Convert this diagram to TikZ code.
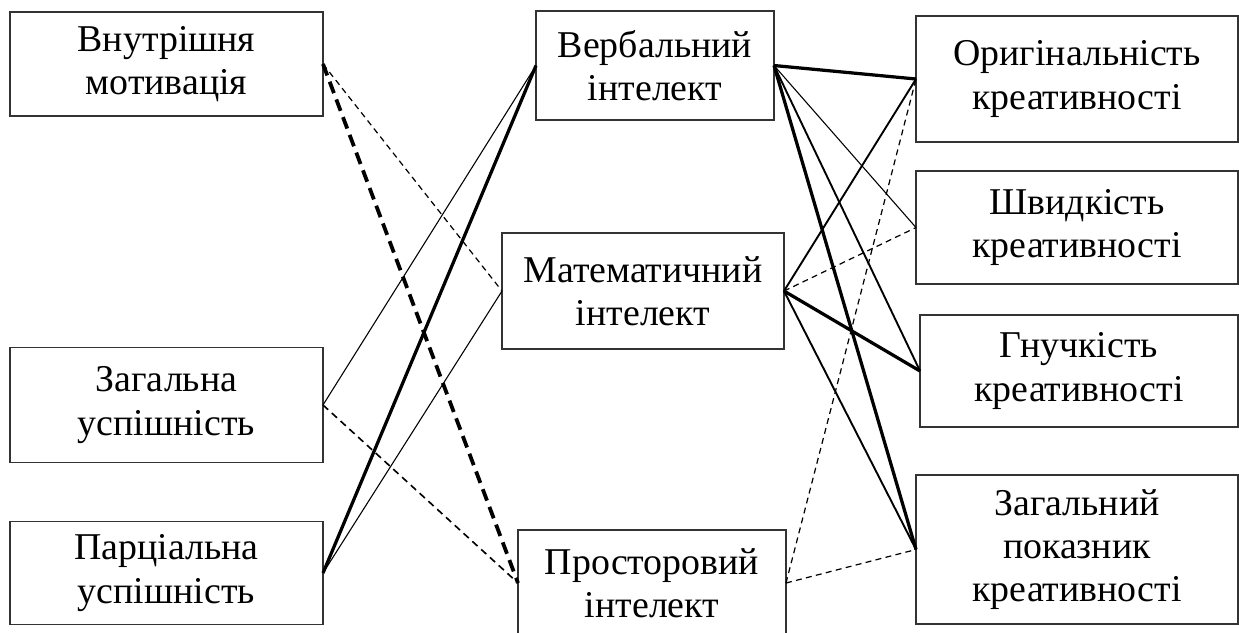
\documentclass[tikz,border=0pt]{standalone}
\usepackage{fontspec}
\setmainfont{Liberation Serif}

\tikzstyle{factor}=[draw=black!80,line width=0.5pt,inner sep=0pt,outer sep=0pt,align=center,font=\fontsize{14}{16}\selectfont]
\tikzstyle{weak}=[draw,line width=0.4pt]
\tikzstyle{medium}=[draw,line width=0.7pt]
\tikzstyle{strong}=[draw,line width=1.2pt]
\tikzstyle{weakneg}=[draw,line width=0.45pt,dash pattern=on 2.2pt off 1.6pt]
\tikzstyle{mediumneg}=[draw,line width=0.6pt,dash pattern=on 2.6pt off 1.8pt]
\tikzstyle{strongneg}=[draw,line width=1.4pt,dash pattern=on 4.5pt off 2.5pt]

\begin{document}
\begin{tikzpicture}[x=0.013cm,y=-0.013cm]

  \def\px{0.013cm}
  \useasboundingbox (0,0) rectangle (1239,632);

  % left column
  \foreach \x/\y/\w/\h/\name/\label in {166.5/64/313/104/mot/{Внутрішня\\мотивація},
                                         166.5/405/313/115/zag/{Загальна\\успішність},
                                         166.5/573/313/103/parc/{Парціальна\\успішність}}
          \node[factor,minimum width=\w*\px,minimum height=\h*\px] (\name) at (\x,\y) {\label};

  % middle column
  \foreach \x/\y/\w/\h/\name/\label in {655/65.5/238/109/verb/{Вербальний\\інтелект},
                                         643/291/282/116/mat/{Математичний\\інтелект},
                                         652/583/268/106/pros/{Просторовий\\інтелект}}
          \node[factor,minimum width=\w*\px,minimum height=\h*\px] (\name) at (\x,\y) {\label};

  % right column
  \foreach \x/\y/\w/\h/\name/\label in {1077/79/322/126/orig/{Оригінальність\\креативності},
                                         1077/227.5/322/113/shv/{Швидкість\\креативності},
                                         1079/371/318/112/hnuch/{Гнучкість\\креативності},
                                         1077/549.5/322/149/zagp/{Загальний\\показник\\креативності}}
          \node[factor,minimum width=\w*\px,minimum height=\h*\px] (\name) at (\x,\y) {\label};

  % links left -> middle
  \foreach \source/\dest/\kind in {zag/verb/weak, parc/mat/weak, parc/verb/strong,
                                   mot/mat/weakneg, zag/pros/mediumneg, mot/pros/strongneg}
         \draw[\kind] (\source.east) -- (\dest.west);

  % links middle -> right
  \foreach \source/\dest/\kind in {verb/orig/strong, verb/shv/weak, verb/hnuch/medium, verb/zagp/strong,
                                   mat/orig/medium, mat/shv/weakneg, mat/hnuch/strong, mat/zagp/medium,
                                   pros/orig/weakneg, pros/zagp/weakneg}
         \draw[\kind] (\source.east) -- (\dest.west);

\end{tikzpicture}
\end{document}
